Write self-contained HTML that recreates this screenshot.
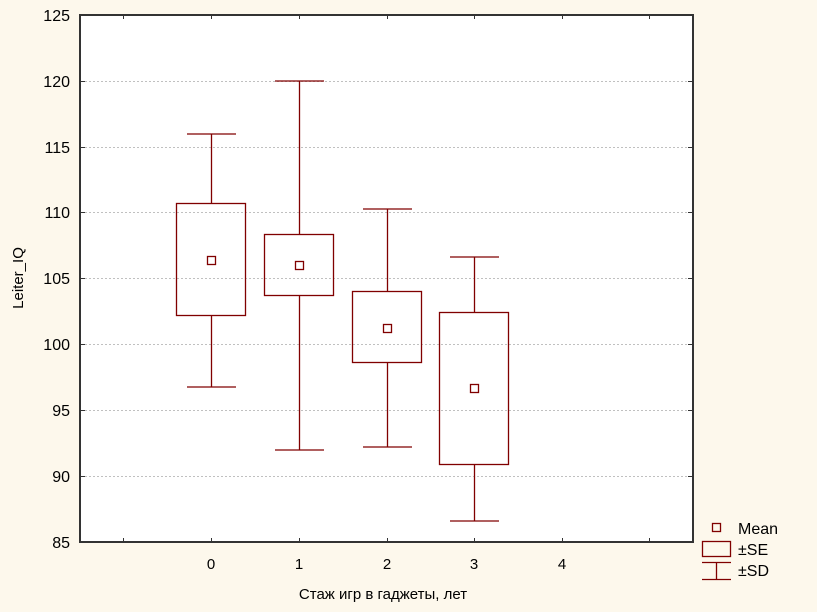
<!DOCTYPE html>
<html><head><meta charset="utf-8"><style>
body{margin:0;background:#fdf8ec;}
svg{display:block;font-family:"Liberation Sans",sans-serif;}
</style></head><body>
<svg width="817" height="612" xmlns="http://www.w3.org/2000/svg">
<rect width="817" height="612" fill="#fdf8ec"/>
<rect x="80" y="15" width="613" height="527" fill="#fff"/>
<g stroke="#c0c0c0" stroke-dasharray="2,2" stroke-width="1">
<line x1="81" x2="692" y1="81.5" y2="81.5"/><line x1="81" x2="692" y1="147.5" y2="147.5"/>
<line x1="81" x2="692" y1="212.5" y2="212.5"/><line x1="81" x2="692" y1="278.5" y2="278.5"/>
<line x1="81" x2="692" y1="344.5" y2="344.5"/><line x1="81" x2="692" y1="410.5" y2="410.5"/>
<line x1="81" x2="692" y1="476.5" y2="476.5"/>
</g>
<rect x="80" y="15" width="613" height="527" fill="none" stroke="#333" stroke-width="2"/>
<g stroke="#333" stroke-width="1">
<line x1="123.5" x2="123.5" y1="15" y2="19"/><line x1="211.5" x2="211.5" y1="15" y2="19"/><line x1="299.5" x2="299.5" y1="15" y2="19"/><line x1="387.5" x2="387.5" y1="15" y2="19"/><line x1="474.5" x2="474.5" y1="15" y2="19"/><line x1="562.5" x2="562.5" y1="15" y2="19"/><line x1="649.5" x2="649.5" y1="15" y2="19"/>
<line x1="123.5" x2="123.5" y1="538" y2="542"/><line x1="211.5" x2="211.5" y1="538" y2="542"/><line x1="299.5" x2="299.5" y1="538" y2="542"/><line x1="387.5" x2="387.5" y1="538" y2="542"/><line x1="474.5" x2="474.5" y1="538" y2="542"/><line x1="562.5" x2="562.5" y1="538" y2="542"/><line x1="649.5" x2="649.5" y1="538" y2="542"/>
<line x1="80" x2="85" y1="81.5" y2="81.5"/><line x1="80" x2="85" y1="147.5" y2="147.5"/><line x1="80" x2="85" y1="212.5" y2="212.5"/><line x1="80" x2="85" y1="278.5" y2="278.5"/><line x1="80" x2="85" y1="344.5" y2="344.5"/><line x1="80" x2="85" y1="410.5" y2="410.5"/><line x1="80" x2="85" y1="476.5" y2="476.5"/>
<line x1="688" x2="693" y1="81.5" y2="81.5"/><line x1="688" x2="693" y1="147.5" y2="147.5"/><line x1="688" x2="693" y1="212.5" y2="212.5"/><line x1="688" x2="693" y1="278.5" y2="278.5"/><line x1="688" x2="693" y1="344.5" y2="344.5"/><line x1="688" x2="693" y1="410.5" y2="410.5"/><line x1="688" x2="693" y1="476.5" y2="476.5"/>
</g>
<g font-size="16" fill="#000" text-anchor="end">
<text x="70" y="21">125</text><text x="70" y="87">120</text><text x="70" y="153">115</text><text x="70" y="218">110</text><text x="70" y="284">105</text><text x="70" y="350">100</text><text x="70" y="416">95</text><text x="70" y="482">90</text><text x="70" y="548">85</text>
</g>
<g font-size="15" fill="#000" text-anchor="middle">
<text x="211" y="569">0</text><text x="299" y="569">1</text><text x="387" y="569">2</text><text x="474" y="569">3</text><text x="562" y="569">4</text>
<text x="383" y="599">Стаж игр в гаджеты, лет</text>
</g>
<text font-size="15" text-anchor="middle" transform="translate(23,278) rotate(-90)">Leiter_IQ</text>
<g stroke="#800000" stroke-width="1.3" fill="none">
<line x1="211.5" x2="211.5" y1="134" y2="203"/><line x1="211.5" x2="211.5" y1="316" y2="387"/><line x1="187" x2="236" y1="134" y2="134"/><line x1="187" x2="236" y1="387" y2="387"/><rect x="176.5" y="203.5" width="69" height="112"/>
<line x1="299.5" x2="299.5" y1="81" y2="234"/><line x1="299.5" x2="299.5" y1="296" y2="450"/><line x1="275" x2="324" y1="81" y2="81"/><line x1="275" x2="324" y1="450" y2="450"/><rect x="264.5" y="234.5" width="69" height="61"/>
<line x1="387.5" x2="387.5" y1="209" y2="291"/><line x1="387.5" x2="387.5" y1="363" y2="447"/><line x1="363" x2="412" y1="209" y2="209"/><line x1="363" x2="412" y1="447" y2="447"/><rect x="352.5" y="291.5" width="69" height="71"/>
<line x1="474.5" x2="474.5" y1="257" y2="312"/><line x1="474.5" x2="474.5" y1="464" y2="521"/><line x1="450" x2="499" y1="257" y2="257"/><line x1="450" x2="499" y1="521" y2="521"/><rect x="439.5" y="312.5" width="69" height="152"/>
<rect x="207.5" y="256.5" width="8" height="8"/><rect x="295.5" y="261.5" width="8" height="8"/><rect x="383.5" y="324.5" width="8" height="8"/><rect x="470.5" y="384.5" width="8" height="8"/>
<rect x="712.5" y="523.5" width="8" height="8"/><rect x="702.5" y="541.5" width="28" height="15"/>
<line x1="702" x2="731" y1="562.5" y2="562.5"/><line x1="702" x2="731" y1="579.5" y2="579.5"/><line x1="716.5" x2="716.5" y1="562" y2="580"/>
</g>
<g font-size="16" fill="#000">
<text x="738" y="534">Mean</text><text x="738" y="555">±SE</text><text x="738" y="576">±SD</text>
</g>
</svg>
</body></html>
